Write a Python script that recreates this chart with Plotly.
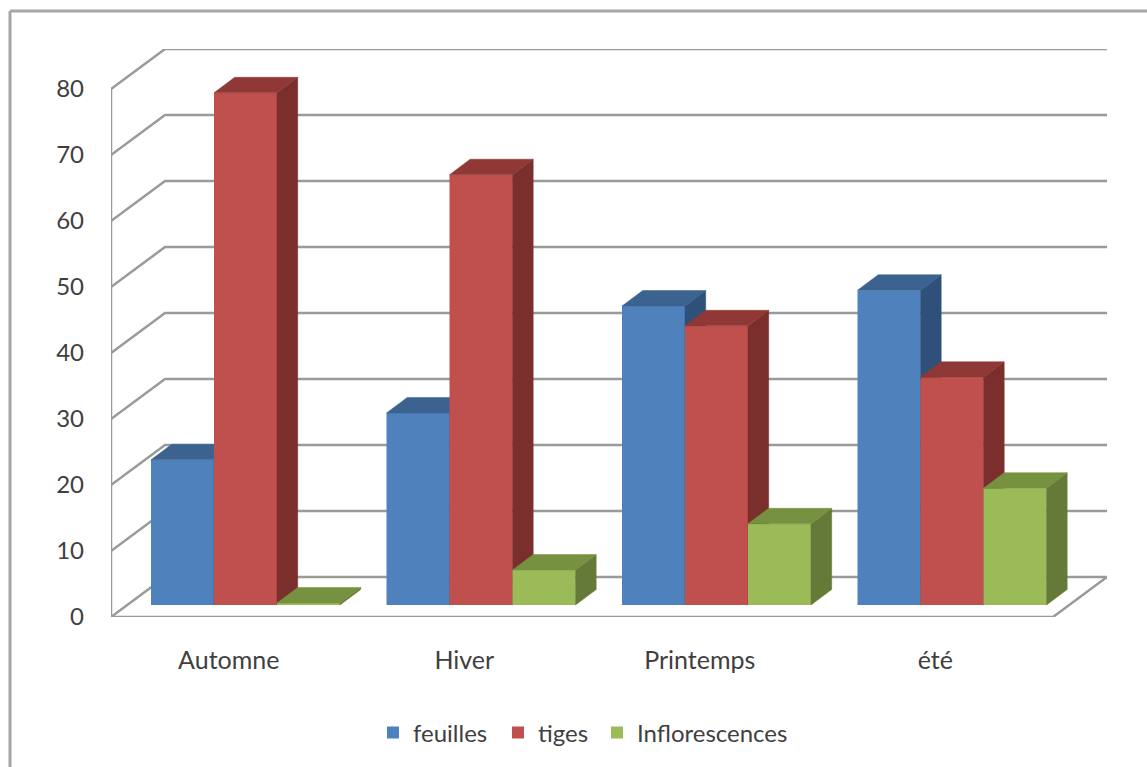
import plotly.graph_objects as go

# Chart data
saisons = ["Automne", "Hiver", "Printemps", "été"]
feuilles = [22.0, 29.1, 45.3, 47.7]
tiges = [77.6, 65.2, 42.3, 34.5]
inflorescences = [0.3, 5.3, 12.3, 17.7]
graduations = [0, 10, 20, 30, 40, 50, 60, 70, 80]

series = [
    ("feuilles", feuilles, "#4F81BD", "#3C6290", "#2F5079"),
    ("tiges", tiges, "#C0504D", "#8F3835", "#7A2F2D"),
    ("Inflorescences", inflorescences, "#9BBB59", "#76913F", "#657A38"),
]

# Pixel scale of the plot area
W, H = 1147, 767
LEFT, RIGHT, TOP, BOTTOM = 111, 1107, 49, 617
PX_X = 235.5  # pixels per category
PX_Y = 6.6    # pixels per unit of value
X_RANGE = [0, (RIGHT - LEFT) / PX_X]
Y_RANGE = [0, (BOTTOM - TOP) / PX_Y]

# Oblique projection: how far the depth direction shifts x and y, in axis units
WALL_DX, WALL_DY = 54 / PX_X, 40 / PX_Y
BAR_OFF_X, BAR_OFF_Y = 16.75 / PX_X, 12 / PX_Y
BAR_W = 63 / PX_X
BAR_DX, BAR_DY = 20.7 / PX_X, 15.5 / PX_Y

GRID = "#9A9A9A"
TEXT = "#3F3F3F"
FONT = "Lato"
FONT_SIZE = 24

fig = go.Figure()

# Walls and floor on the base axes
n = len(saisons)
wall_x, wall_y = [], []
for g in graduations:
    wall_x += [0, WALL_DX, X_RANGE[1], None]
    wall_y += [g, g + WALL_DY, g + WALL_DY, None]
wall_x += [0, 0, None, 0, n, X_RANGE[1]]
wall_y += [0, graduations[-1], None, 0, 0, WALL_DY]
fig.add_trace(go.Scatter(
    x=wall_x, y=wall_y, mode="lines", cliponaxis=False,
    line=dict(color=GRID, width=2.5), hoverinfo="skip", showlegend=False,
))


def box_faces(centers, values):
    """Outlines of the side and top faces of each bar, separated by None."""
    side_x, side_y, top_x, top_y = [], [], [], []
    for c, v in zip(centers, values):
        x0, x1 = c - BAR_W / 2, c + BAR_W / 2
        y0, y1 = BAR_OFF_Y, BAR_OFF_Y + v
        side_x += [x1, x1 + BAR_DX, x1 + BAR_DX, x1, x1, None]
        side_y += [y0, y0 + BAR_DY, y1 + BAR_DY, y1, y0, None]
        top_x += [x0, x1, x1 + BAR_DX, x0 + BAR_DX, x0, None]
        top_y += [y1, y1, y1 + BAR_DY, y1 + BAR_DY, y1, None]
    return side_x, side_y, top_x, top_y


plot_w, plot_h = RIGHT - LEFT, BOTTOM - TOP
to_px = lambda px: (px - LEFT) / plot_w
to_py = lambda py: (BOTTOM - py) / plot_h

# One legend per series so the entries can be spaced freely
legend_left = [373, 498, 597]
legend_layout = {}

# Each series sits on its own overlaid axes, so a bar's front hides
# the side face of its left-hand neighbour.
for j, (name, values, front, top, side) in enumerate(series):
    xa, ya = f"x{j + 2}", f"y{j + 2}"
    lg = "legend" if j == 0 else f"legend{j + 1}"
    legend_layout[lg] = dict(
        xref="paper", yref="paper",
        x=to_px(legend_left[j]), xanchor="left", y=to_py(733), yanchor="middle",
        font=dict(family=FONT, size=FONT_SIZE, color=TEXT), bgcolor="rgba(0,0,0,0)",
    )
    centers = [i + 0.5 + BAR_OFF_X + (j - 1) * BAR_W for i in range(n)]
    fig.add_trace(go.Bar(
        x=centers, y=values, base=BAR_OFF_Y, width=BAR_W, name=name, legend=lg,
        marker=dict(color=front, line=dict(width=0)),
        customdata=saisons, hovertemplate="%{customdata}: " + "%{y}<extra>" + name + "</extra>",
        xaxis=xa, yaxis=ya, showlegend=True,
    ))
    sx, sy, tx, ty = box_faces(centers, values)
    for fx, fy, colour in ((sx, sy, side), (tx, ty, top)):
        fig.add_trace(go.Scatter(
            x=fx, y=fy, mode="lines", fill="toself", fillcolor=colour,
            line=dict(color=colour, width=0.5), hoverinfo="skip",
            showlegend=False, xaxis=xa, yaxis=ya,
        ))

layout_axes = {}
for k in (2, 3, 4):
    layout_axes[f"xaxis{k}"] = dict(range=X_RANGE, overlaying="x", visible=False, fixedrange=True)
    layout_axes[f"yaxis{k}"] = dict(range=Y_RANGE, overlaying="y", visible=False, fixedrange=True)

# Outer frame, open on the right and at the bottom
frame = dict(color="#A6A6A6", width=3)
shapes = [
    dict(type="line", xref="paper", yref="paper", x0=to_px(10), x1=to_px(10),
         y0=to_py(H), y1=to_py(11), line=frame),
    dict(type="line", xref="paper", yref="paper", x0=to_px(10), x1=to_px(W),
         y0=to_py(11), y1=to_py(11), line=frame),
]

fig.update_layout(
    width=W, height=H, autosize=False,
    margin=dict(l=LEFT, r=W - RIGHT, t=TOP, b=H - BOTTOM),
    paper_bgcolor="white", plot_bgcolor="rgba(0,0,0,0)",
    barmode="overlay",
    font=dict(family=FONT, size=FONT_SIZE, color=TEXT),
    shapes=shapes,
    xaxis=dict(
        range=X_RANGE, showgrid=False, zeroline=False, showline=False, fixedrange=True,
        tickmode="array", tickvals=[i + 0.5 for i in range(n)], ticktext=saisons,
        ticks="", ticklabelstandoff=26, tickfont=dict(family=FONT, size=25, color=TEXT),
    ),
    yaxis=dict(
        range=Y_RANGE, showgrid=False, zeroline=False, showline=False, fixedrange=True,
        tickmode="array", tickvals=graduations, ticktext=[str(g) for g in graduations],
        ticks="", ticklabelstandoff=26, tickfont=dict(family=FONT, size=FONT_SIZE, color=TEXT),
    ),
    **legend_layout,
    **layout_axes,
)

fig.write_html("out.html", config=dict(displayModeBar=False))
